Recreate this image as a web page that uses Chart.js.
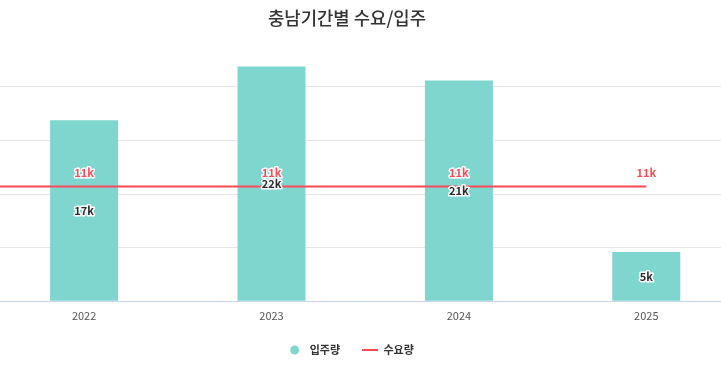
<!DOCTYPE html>
<html>
<head>
<meta charset="utf-8">
<script src="https://cdn.jsdelivr.net/npm/chart.js@4.4.1/dist/chart.umd.min.js"></script>
<style>
  html, body { margin: 0; padding: 0; background: #fff; }
  #wrap { width: 721px; height: 368px; overflow: hidden; position: relative; }
  #chart { position: absolute; left: -46px; top: 0; }
</style>
</head>
<body>
<div id="wrap"><canvas id="chart" width="786" height="368"></canvas></div>
<script>
// 2021 is only there so the demand line runs in from the left edge, as in the scrolled original
const years = ['2021', '2022', '2023', '2024', '2025'];
const supply = [null, 16900, 21900, 20600, 4600];   // 입주량
const demand = [10700, 10700, 10700, 10700, 10700]; // 수요량
const yTicks = [0, 5000, 10000, 15000, 20000, 25000];

const TEAL = '#7fd6cf';
const RED = '#fa4a56';
const FONT = "'Noto Sans CJK KR', 'Noto Sans', sans-serif";

const fmtK = v => Math.round(v / 1000) + 'k';

// legend icons, drawn as small canvases so both keep their own shape
function makeIcon(w, h, draw) {
    const c = document.createElement('canvas');
    c.width = w;
    c.height = h;
    draw(c.getContext('2d'));
    return c;
}
const dotIcon = makeIcon(24, 10, g => {
    g.fillStyle = TEAL;
    g.beginPath();
    g.arc(14.5, 5, 4.5, 0, Math.PI * 2);
    g.fill();
});
const lineIcon = makeIcon(24, 2, g => {
    g.fillStyle = RED;
    g.fillRect(8, 0, 16, 2);
});

const valueLabels = {
    id: 'valueLabels',
    afterDatasetsDraw(chart) {
        const ctx = chart.ctx;
        const area = chart.chartArea;
        ctx.save();
        ctx.font = 'bold 11px ' + FONT;
        ctx.textAlign = 'center';
        ctx.textBaseline = 'middle';
        ctx.lineJoin = 'round';
        ctx.lineWidth = 3;
        ctx.strokeStyle = '#fff';
        chart.data.datasets.forEach((ds, di) => {
            const meta = chart.getDatasetMeta(di);
            meta.data.forEach((el, i) => {
                const v = ds.data[i];
                if (v == null || el.x < area.left) return;
                let y;
                if (ds.type === 'bar') {
                    y = (el.y + el.base) / 2;
                    ctx.fillStyle = '#2b2b2b';
                } else {
                    y = el.y - 14;
                    ctx.fillStyle = RED;
                }
                ctx.strokeText(fmtK(v), el.x, y);
                ctx.fillText(fmtK(v), el.x, y);
            });
        });
        ctx.restore();
    }
};

new Chart(document.getElementById('chart'), {
    data: {
        labels: years,
        datasets: [
            {
                type: 'bar',
                label: '입주량',
                data: supply,
                backgroundColor: TEAL,
                borderWidth: 0,
                categoryPercentage: 1,
                barPercentage: 0.363,
                order: 1
            },
            {
                type: 'line',
                label: '수요량',
                data: demand,
                borderColor: RED,
                backgroundColor: RED,
                borderWidth: 2,
                pointRadius: 0,
                tension: 0,
                order: 0
            }
        ]
    },
    options: {
        responsive: false,
        animation: false,
        layout: { padding: { left: 0, right: 0, top: 0, bottom: 2.5 } },
        scales: {
            x: {
                min: '2022',
                offset: true,
                grid: { display: false, drawTicks: false },
                border: { display: true, color: '#ccd6eb', width: 1 },
                ticks: { color: '#555', font: { family: FONT, size: 11 }, padding: 8 }
            },
            y: {
                min: 0,
                max: 25000,
                afterBuildTicks: scale => { scale.ticks = yTicks.map(v => ({ value: v })); },
                afterFit: scale => { scale.width = 36.4; },
                border: { display: false },
                grid: {
                    drawTicks: false,
                    color: c => (c.tick && c.tick.value === 25000) ? 'rgba(0,0,0,0)' : '#e6e6e6'
                },
                ticks: { color: '#666', font: { family: FONT, size: 11 }, callback: v => fmtK(v) }
            }
        },
        plugins: {
            title: {
                display: true,
                text: '충남기간별 수요/입주',
                color: '#333',
                font: { family: FONT, size: 17.8, weight: '500' },
                padding: { top: 8, bottom: 4 }
            },
            legend: {
                position: 'bottom',
                labels: {
                    usePointStyle: true,
                    pointStyleWidth: 24,
                    boxHeight: 7,
                    color: '#333',
                    font: { family: FONT, size: 11, weight: 'bold' },
                    padding: 14,
                    sort: (a, b) => a.datasetIndex - b.datasetIndex,
                    generateLabels: chart => {
                        const items = Chart.defaults.plugins.legend.labels.generateLabels(chart);
                        items.forEach(it => {
                            it.pointStyle = it.datasetIndex === 1 ? lineIcon : dotIcon;
                        });
                        return items;
                    }
                }
            },
            tooltip: { enabled: false }
        }
    },
    plugins: [valueLabels]
});
</script>
</body>
</html>
